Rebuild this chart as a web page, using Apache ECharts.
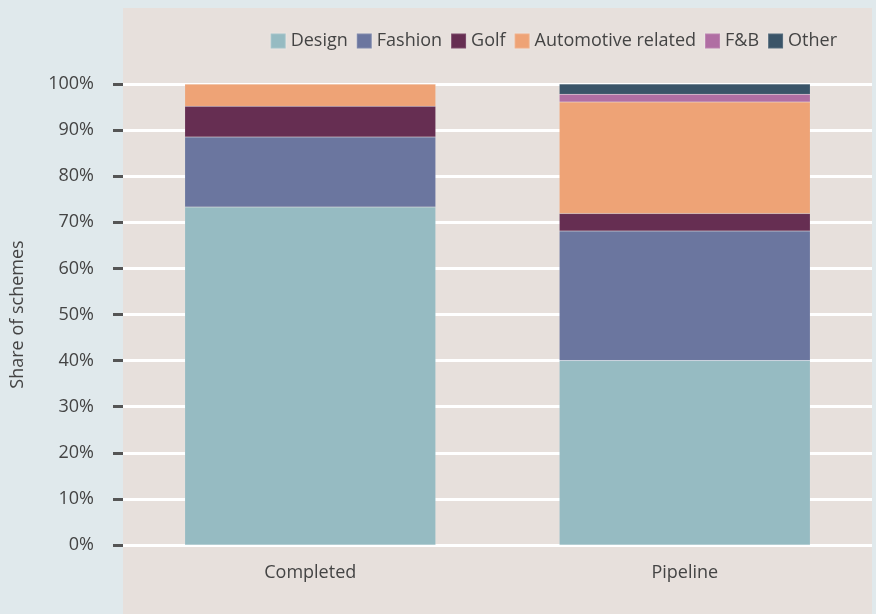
<!DOCTYPE html>
<html>
<head>
<meta charset="utf-8">
<script src="https://cdn.jsdelivr.net/npm/echarts@6/dist/echarts.min.js"></script>
<style>
  html, body { margin: 0; padding: 0; background: #e0e9ec; }
  #chart { width: 876px; height: 614px; }
</style>
</head>
<body>
<div id="chart"></div>
<script>
// Scheme categories and their share (%) in each stage
const stages = ['Completed', 'Pipeline'];
const seriesNames = ['Design', 'Fashion', 'Golf', 'Automotive related', 'F&B', 'Other'];
const design = [73.3, 40.0];
const fashion = [15.2, 28.1];
const golf = [6.7, 3.8];
const automotive = [4.8, 24.2];
const fnb = [0, 1.7];
const other = [0, 2.2];
const yTicks = [0, 10, 20, 30, 40, 50, 60, 70, 80, 90, 100];

const values = [design, fashion, golf, automotive, fnb, other];
const colors = ['#96bbc2', '#6b769f', '#662e52', '#eea376', '#b06ea3', '#3a5468'];

const fontFamily = "'Open Sans', 'Noto Sans', sans-serif";
const textColor = '#444444';
const fontSize = 18;

const chart = echarts.init(document.getElementById('chart'));
chart.setOption({
  backgroundColor: '#e0e9ec',
  textStyle: { fontFamily: fontFamily },
  graphic: [{
    type: 'rect',
    z: -10,
    silent: true,
    shape: { x: 123, y: 8, width: 749, height: 606 },
    style: { fill: '#e7e0dc' }
  }],
  legend: {
    data: seriesNames,
    top: 27,
    right: 34,
    itemWidth: 15,
    itemHeight: 15,
    itemGap: 8,
    icon: 'rect',
    textStyle: { color: textColor, fontSize: fontSize, fontFamily: fontFamily }
  },
  grid: { left: 123, right: 4, top: 84, bottom: 69 },
  xAxis: {
    type: 'category',
    data: stages,
    axisLine: { show: false },
    axisTick: { show: false },
    axisLabel: { color: textColor, fontSize: fontSize, margin: 19, fontFamily: fontFamily }
  },
  yAxis: {
    type: 'value',
    min: yTicks[0],
    max: yTicks[yTicks.length - 1],
    interval: 10,
    name: 'Share of schemes',
    nameLocation: 'middle',
    nameGap: 96,
    nameTextStyle: { color: textColor, fontSize: fontSize, fontFamily: fontFamily },
    axisLine: { show: false },
    axisTick: { show: true, inside: false, length: 10, lineStyle: { color: '#555555', width: 3 } },
    axisLabel: {
      color: textColor, fontSize: fontSize, margin: 29, fontFamily: fontFamily,
      formatter: v => v + '%'
    },
    splitLine: { show: true, lineStyle: { color: '#ffffff', width: 3 } }
  },
  series: seriesNames.map((name, i) => ({
    name: name,
    type: 'bar',
    stack: 'share',
    barWidth: '67%',
    data: values[i],
    itemStyle: { color: colors[i], borderColor: 'rgba(255,255,255,0.15)', borderWidth: 0.5 },
    emphasis: { disabled: true }
  }))
});
</script>
</body>
</html>
